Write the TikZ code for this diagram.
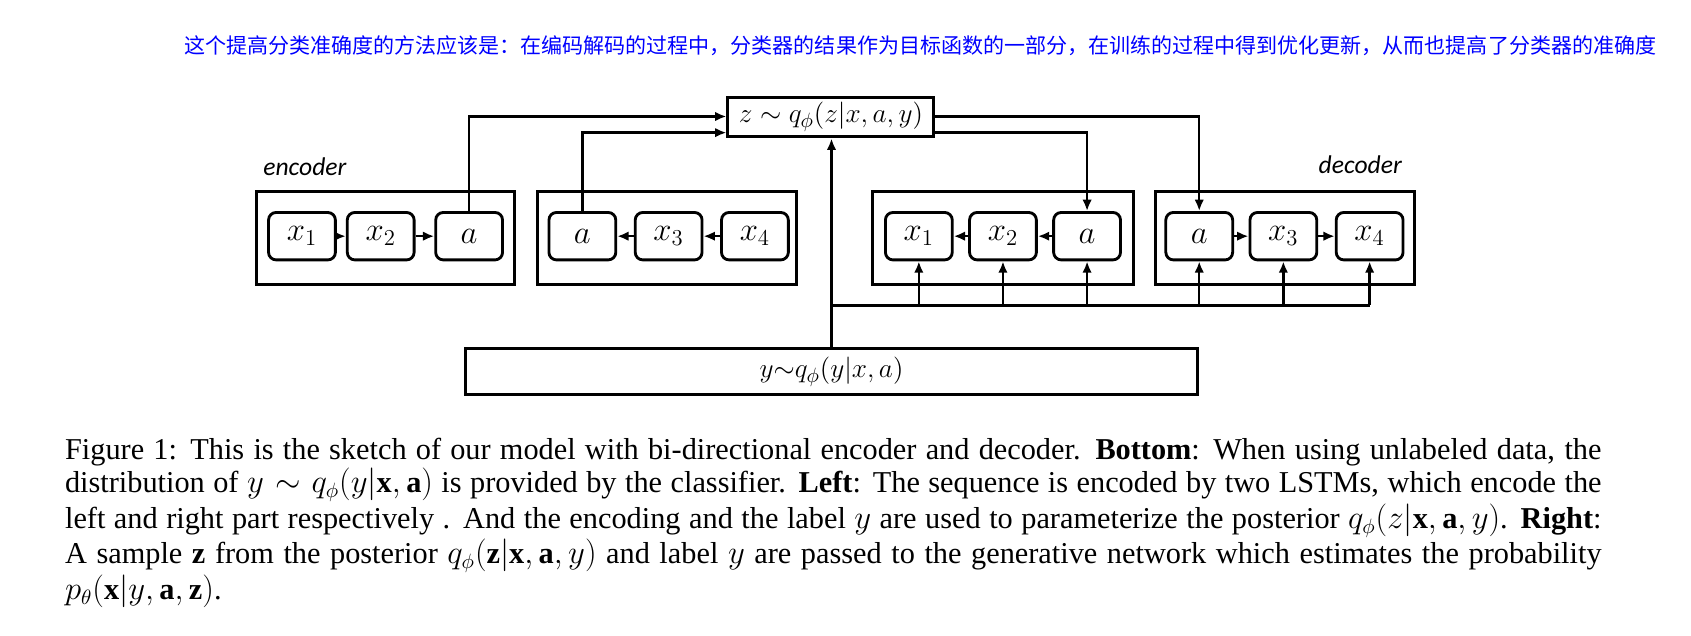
\documentclass[tikz,border=0pt]{standalone}
\usepackage{fontspec}
\setmainfont{Liberation Serif}
\newfontfamily\cjk{Noto Sans CJK SC}
\newfontfamily\lbl{Carlito}
\usetikzlibrary{arrows.meta}
\begin{document}
\begin{tikzpicture}[x=0.02cm,y=-0.02cm,
  outer/.style={draw,line width=1.6pt,inner sep=0,anchor=north west},
  cell/.style={draw,line width=1.5pt,rounded corners=4pt,minimum width=1.24cm,minimum height=0.88cm,inner sep=0,font=\fontsize{17}{17}\selectfont},
  con/.style={line width=1.3pt,-{Latex[length=6pt,width=5pt]}},
  ln/.style={line width=1.6pt}]
\useasboundingbox (0,0) rectangle (1568,589);
\node[anchor=east,text=blue,font=\cjk\fontsize{11.1}{12}\selectfont] (note) at (1542,42) {这个提高分类准确度的方法应该是：在编码解码的过程中，分类器的结果作为目标函数的一部分，在训练的过程中得到优化更新，从而也提高了分类器的准确度};
% z box
\node[draw,line width=1.6pt,minimum width=3.82cm,minimum height=0.74cm,inner sep=0,font=\fontsize{15.5}{15.5}\selectfont] (z) at (770.5,108.5) {$z\sim q_\phi(z|x,a,y)$};
\node[draw,line width=1.6pt,minimum width=13.56cm,minimum height=0.86cm,inner sep=0,font=\fontsize{15.5}{15.5}\selectfont] (y) at (771,344.5) {$y{\sim}q_\phi(y|x,a)$};
\node[anchor=west,font=\lbl\itshape\fontsize{13.5}{14}\selectfont] (enc) at (238,155) {encoder};
\node[anchor=east,font=\lbl\itshape\fontsize{13.5}{14}\selectfont] (dec) at (1306,153) {decoder};
% outer boxes
\node[outer,minimum width=4.8cm,minimum height=1.72cm] (b1) at (236,176) {};
\node[outer,minimum width=4.8cm,minimum height=1.72cm] (b2) at (497,176) {};
\node[outer,minimum width=4.84cm,minimum height=1.72cm] (b3) at (808,176) {};
\node[outer,minimum width=4.8cm,minimum height=1.72cm] (b4) at (1070,176) {};
% cells
\node[cell] (e1) at (280,219) {$x_1$};
\node[cell] (e2) at (353,219) {$x_2$};
\node[cell] (ea) at (435,219) {$a$};
\node[cell] (fa) at (540,219) {$a$};
\node[cell] (f3) at (620,219) {$x_3$};
\node[cell] (f4) at (700,219) {$x_4$};
\node[cell] (d1) at (852,219) {$x_1$};
\node[cell] (d2) at (930,219) {$x_2$};
\node[cell] (da) at (1008,219) {$a$};
\node[cell] (ga) at (1112,219) {$a$};
\node[cell] (g3) at (1190,219) {$x_3$};
\node[cell] (g4) at (1270,219) {$x_4$};
\draw[con] (e1) -- (e2); \draw[con] (e2) -- (ea);
\draw[con] (f4) -- (f3); \draw[con] (f3) -- (fa);
\draw[con] (da) -- (d2); \draw[con] (d2) -- (d1);
\draw[con] (ga) -- (g3); \draw[con] (g3) -- (g4);
% encoder to z
\draw[con] (ea.north) |- (z.west |- 0,108);
\draw[con] (fa.north) |- (z.west |- 0,123);
\draw[con] (z.east |- 0,108) -| (ga.north);
\draw[con] (z.east |- 0,123) -| (da.north);
% y to z and decoders
\coordinate (j) at (771,283);
\draw[con] (y.north -| j) -- (z.south -| j);
\draw[ln] (j) -- (1270,283);
\foreach \n in {d1,d2,da,ga,g3,g4}{\draw[con] (\n.south |- j) -- (\n.south);}
% caption
\node[anchor=north west,text width=28.5cm,align=justify,inner sep=0,font=\fontsize{16}{17.6}\selectfont] (cap) at (60,406) {Figure 1: This is the sketch of our model with bi-directional encoder and decoder. \textbf{Bottom}: When using unlabeled data, the distribution of $y\sim q_\phi(y|\mathbf{x},\mathbf{a})$ is provided by the classifier. \textbf{Left}: The sequence is encoded by two LSTMs, which encode the left and right part respectively . And the encoding and the label $y$ are used to parameterize the posterior $q_\phi(z|\mathbf{x},\mathbf{a},y)$. \textbf{Right}: A sample $\mathbf{z}$ from the posterior $q_\phi(\mathbf{z}|\mathbf{x},\mathbf{a},y)$ and label $y$ are passed to the generative network which estimates the probability $p_\theta(\mathbf{x}|y,\mathbf{a},\mathbf{z})$.};
\end{tikzpicture}
\end{document}
